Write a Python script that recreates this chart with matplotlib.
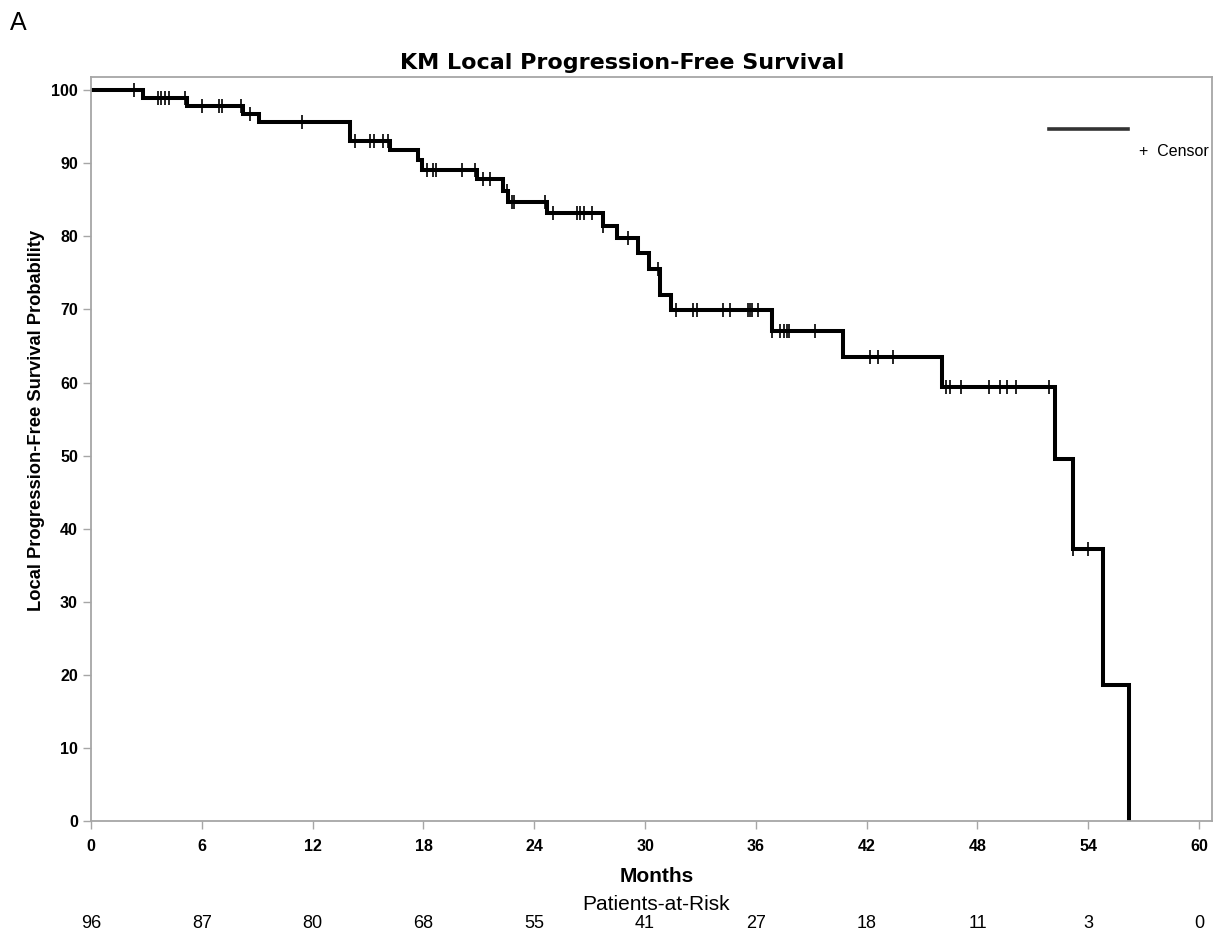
import matplotlib
matplotlib.use('Agg')
import matplotlib.pyplot as plt

plt.rcParams['font.family'] = ['Liberation Sans', 'DejaVu Sans']

# tempos dos eventos (meses) e sobrevivencia (%) depois de cada degrau
step_times = [0, 2.8, 5.2, 8.2, 9.1, 14.0, 16.2, 17.7, 17.9, 20.9, 22.3, 22.6,
              24.7, 27.7, 28.5, 29.6, 30.2, 30.8, 31.4, 36.9, 40.7, 46.1,
              52.2, 53.2, 54.8, 56.2]
step_surv = [100, 98.9, 97.8, 96.8, 95.6, 93.1, 91.8, 90.4, 89.1, 87.8, 86.2, 84.7,
             83.2, 81.4, 79.8, 77.7, 75.6, 72.0, 69.9, 67.0, 63.5, 59.4,
             49.5, 37.2, 18.6, 0]

# censuras
censor_times = [2.3, 3.6, 3.8, 4.0, 4.2, 5.1, 6.0, 6.9, 7.1, 8.1, 8.6, 11.4,
                14.3, 15.1, 15.3, 15.8, 16.1, 18.2, 18.5, 18.7, 20.1, 20.8,
                21.2, 21.6, 22.5, 22.8, 22.9, 24.6, 25.0, 26.3, 26.5, 26.7, 27.1,
                27.7, 29.1, 30.7, 31.7, 32.6, 32.8, 34.2, 34.6, 35.6, 35.7, 35.8,
                36.1, 36.9, 37.3, 37.5, 37.7, 37.8, 39.2, 42.2, 42.6, 43.4, 46.3,
                46.5, 47.1, 48.6, 49.2, 49.6, 50.1, 51.9, 53.2, 54.0]

risk_months = [0, 6, 12, 18, 24, 30, 36, 42, 48, 54, 60]
risk_counts = [96, 87, 80, 68, 55, 41, 27, 18, 11, 3, 0]


def surv_at(t):
    s = step_surv[0]
    for tt, ss in zip(step_times, step_surv):
        if tt <= t:
            s = ss
    return s


fig = plt.figure(figsize=(12.15, 9.34), dpi=100)
ax = fig.add_axes([0.075, 0.121, 0.9225, 0.7965])

ax.step(step_times, step_surv, where='post', color='black', lw=2.9, solid_joinstyle='miter')
ax.plot(censor_times, [surv_at(t) for t in censor_times], ls='none', marker='|',
        ms=10, mew=1.2, color='black')

ax.set_xlim(0, 60.7)
ax.set_ylim(0, 101.8)
ax.set_xticks(risk_months)
ax.set_yticks(range(0, 101, 10))

gray = '#a6a6a6'
for sp in ax.spines.values():
    sp.set_color(gray)
    sp.set_linewidth(1.3)
ax.tick_params(colors=gray, length=6, width=1, labelcolor='black')
for lab in ax.get_xticklabels() + ax.get_yticklabels():
    lab.set_fontweight('bold')
    lab.set_fontsize(11.5)
ax.tick_params(axis='x', pad=7)

ax.set_title('KM Local Progression-Free Survival', fontsize=16, fontweight='bold',
             family='DejaVu Sans', pad=6, x=0.474)
ax.set_ylabel('Local Progression-Free Survival Probability', fontsize=13.2, fontweight='bold')
ax.yaxis.set_label_coords(-0.041, 0.538)
ax.set_xlabel('Months', fontsize=15, fontweight='bold', labelpad=9)
ax.xaxis.set_label_coords(0.505, -0.062)

# legenda
ax.plot([0.855, 0.925], [0.93, 0.93], transform=ax.transAxes, color='#333333', lw=2.6)
ax.text(0.935, 0.90, '+  Censor', transform=ax.transAxes, fontsize=11.5, va='center', ha='left')

# tabela de doentes em risco
fig.text(656 / 1215, 1 - 905 / 934, 'Patients-at-Risk', ha='center', va='center', fontsize=15)
for m, n in zip(risk_months, risk_counts):
    xf = ax.transData.transform((m, 0))[0] / fig.bbox.width
    fig.text(xf, 1 - 923 / 934, str(n), ha='center', va='center', fontsize=13)

fig.text(0.008, 0.975, 'A', fontsize=18, ha='left', va='center')

fig.savefig('out.png', dpi=100, facecolor='white')
